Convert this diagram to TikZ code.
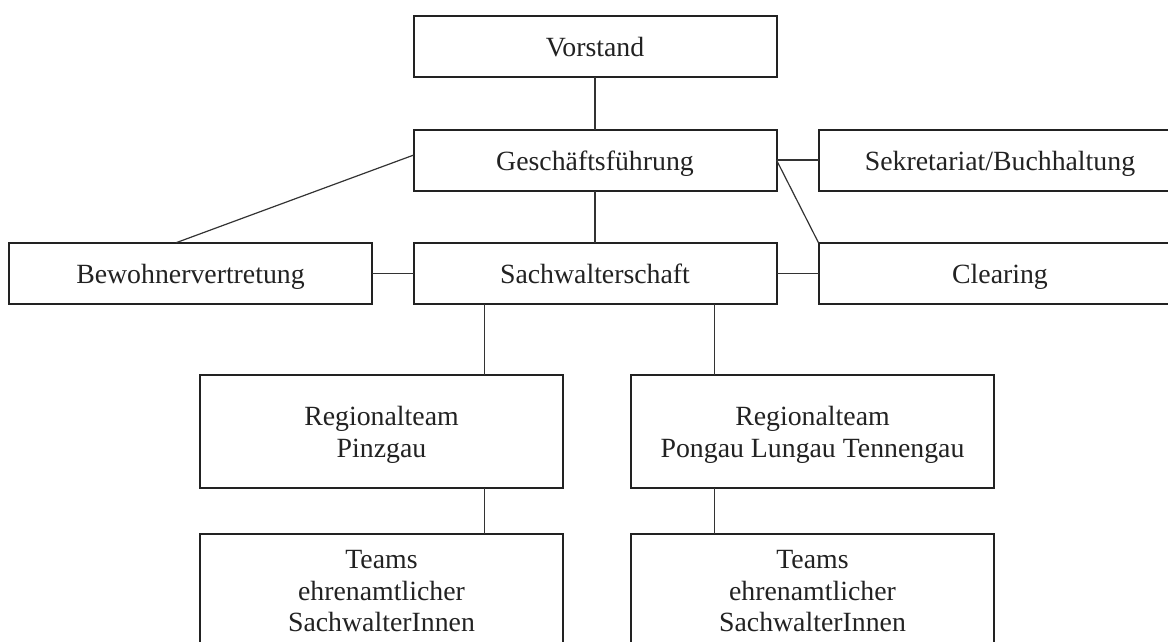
\documentclass[tikz,border=0pt]{standalone}
\usepackage{fontspec}
\setmainfont{Liberation Serif}
\usetikzlibrary{calc}
\definecolor{ink}{HTML}{222222}
\definecolor{wire}{HTML}{333333}
% invisible struts that fix the height of the first and the depth of the last line
\newcommand{\tstrut}{\rule{0pt}{26pt}}
\newcommand{\bstrut}{\rule[-6pt]{0pt}{6pt}}
\begin{document}
\begin{tikzpicture}[x=1pt,y=-1pt,
  orgbox/.style={draw=ink, line width=2pt, fill=white, inner sep=0pt, outer sep=0pt,
    minimum width=363pt, minimum height=61pt, align=center, text=ink,
    font=\fontsize{27.8}{31.5}\selectfont},
  tallbox/.style={orgbox, minimum height=113pt},
  link/.style={draw=wire, line width=1.2pt}]
\useasboundingbox (0,0) rectangle (1168,641);
\clip (0,0) rectangle (1168,641);

% upper levels
\node[orgbox] (vor) at (595,46.5) {\tstrut Vorstand\bstrut};
\node[orgbox] (gf) at (595,160) {\tstrut Geschäftsführung\bstrut};
\node[orgbox] (sek) at (1000,160) {\tstrut Sekretariat/Buchhaltung\bstrut};

% middle row
\node[orgbox] (bew) at (190.5,273.25) {\tstrut Bewohnervertretung\bstrut};
\node[orgbox] (sach) at (595,273.25) {\tstrut Sachwalterschaft\bstrut};
\node[orgbox] (clr) at (1000,273.25) {\tstrut Clearing\bstrut};

% regional teams
\node[tallbox] (rp) at (381.5,431.5) {\tstrut Regionalteam\\Pinzgau\bstrut};
\node[tallbox] (rt) at (812.5,431.5) {\tstrut Regionalteam\\Pongau Lungau Tennengau\bstrut};

% volunteer teams
\node[tallbox] (tl) at (381.5,590) {\tstrut Teams\\ehrenamtlicher\\SachwalterInnen\bstrut};
\node[tallbox] (tr) at (812.5,590) {\tstrut Teams\\ehrenamtlicher\\SachwalterInnen\bstrut};

% attachment points
\coordinate (cl) at ($(rp.north west)!0.784!(rp.north east)$);
\coordinate (cr) at ($(rt.north west)!0.229!(rt.north east)$);
\coordinate (bewtop) at ($(bew.north west)!0.46!(bew.north east)$);
\coordinate (gfleft) at ($(gf.north west)!0.42!(gf.south west)$);

% connectors
\draw[link] (vor.south) -- (gf.north);
\draw[link] (gf.east) -- (sek.west);
\draw[link] (gf.east) -- (clr.north west);
\draw[link] (gfleft) -- (bewtop);
\draw[link] (gf.south) -- (sach.north);
\draw[link] (bew.east) -- (sach.west);
\draw[link] (sach.east) -- (clr.west);
\draw[link] (cl |- sach.south) -- (cl);
\draw[link] (cr |- sach.south) -- (cr);
\draw[link] (cl |- rp.south) -- (cl |- tl.north);
\draw[link] (cr |- rt.south) -- (cr |- tr.north);
\end{tikzpicture}
\end{document}
